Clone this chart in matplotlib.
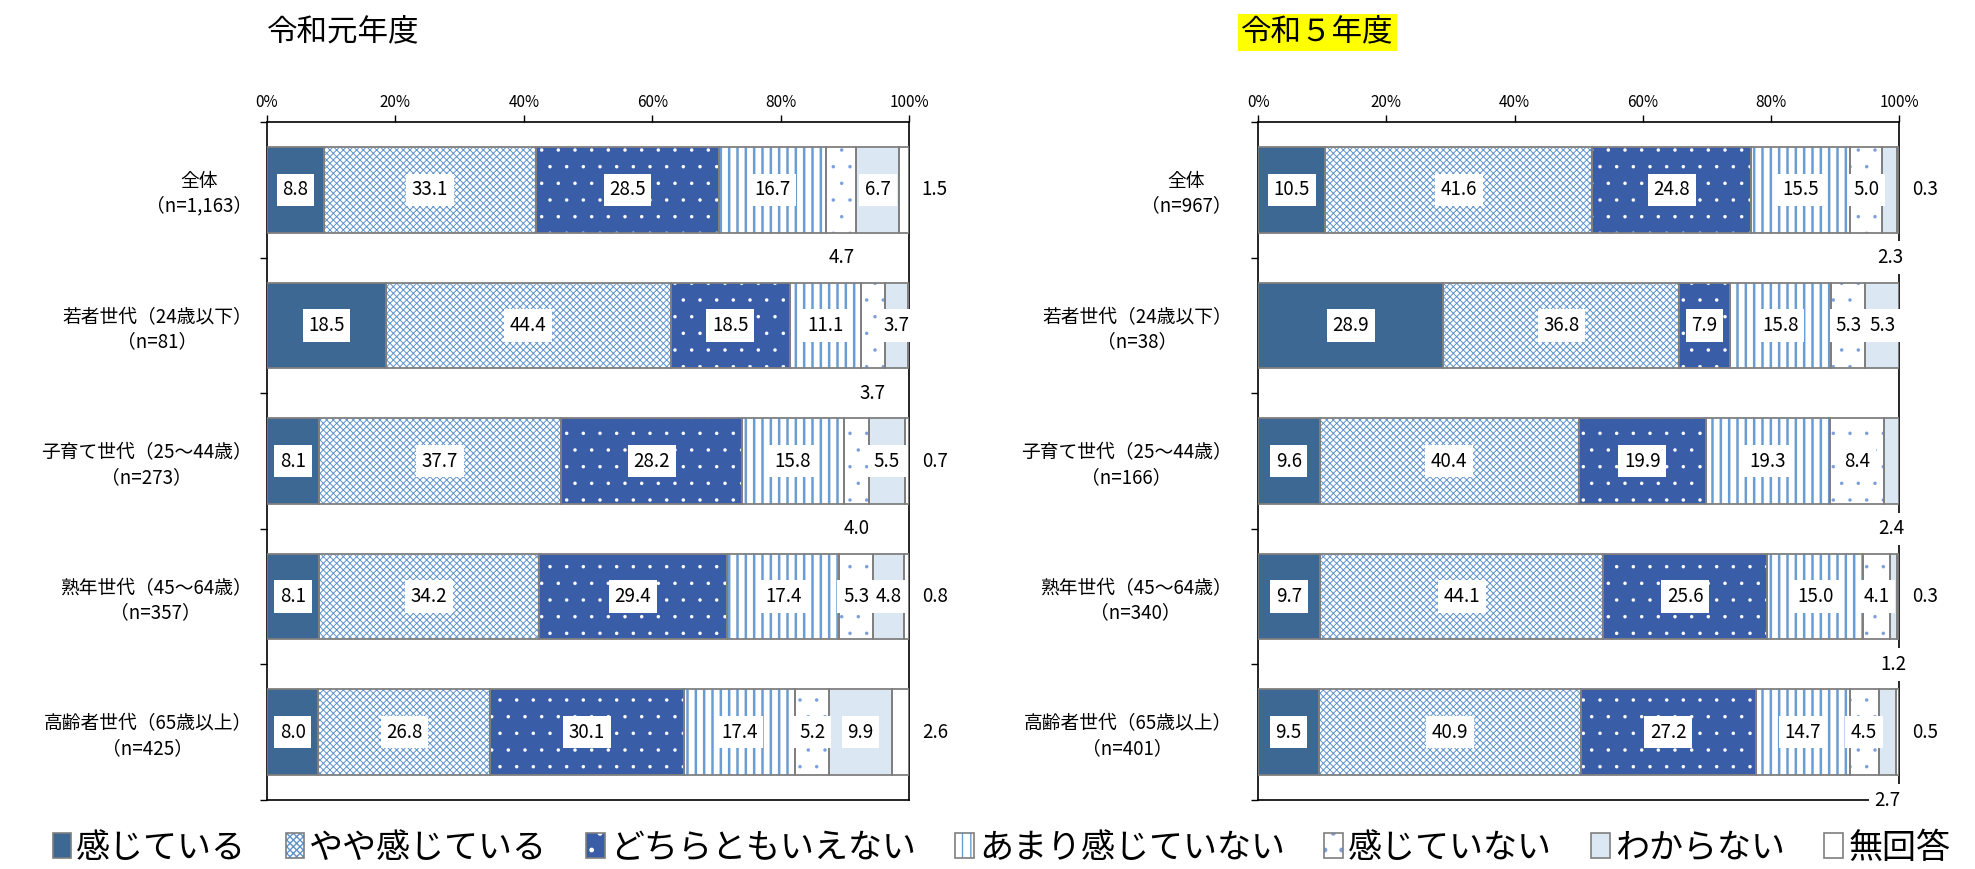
import matplotlib
matplotlib.use("Agg")
import matplotlib.pyplot as plt
from matplotlib.patches import Patch
from matplotlib.legend_handler import HandlerTuple

# ==========================================
# SETTINGS
# ==========================================
plt.rcParams["font.family"] = ["Noto Sans CJK JP", "DejaVu Sans"]
plt.rcParams["hatch.linewidth"] = 1.0

OUTPUT_PLOT = "out.png"

# ==========================================
# DATA
# ==========================================
SERIES = ["感じている", "やや感じている", "どちらともいえない",
          "あまり感じていない", "感じていない", "わからない", "無回答"]

CATS_R1 = ["全体\n（n=1,163）", "若者世代（24歳以下）\n（n=81）",
           "子育て世代（25～44歳）\n（n=273）", "熟年世代（45～64歳）\n（n=357）",
           "高齢者世代（65歳以上）\n（n=425）"]
CATS_R5 = ["全体\n（n=967）", "若者世代（24歳以下）\n（n=38）",
           "子育て世代（25～44歳）\n（n=166）", "熟年世代（45～64歳）\n（n=340）",
           "高齢者世代（65歳以上）\n（n=401）"]

# rows = categories, columns = SERIES
VALUES_R1 = [
    [8.8, 33.1, 28.5, 16.7, 4.7, 6.7, 1.5],
    [18.5, 44.4, 18.5, 11.1, 3.7, 3.7, 0.0],
    [8.1, 37.7, 28.2, 15.8, 4.0, 5.5, 0.7],
    [8.1, 34.2, 29.4, 17.4, 5.3, 4.8, 0.8],
    [8.0, 26.8, 30.1, 17.4, 5.2, 9.9, 2.6],
]
VALUES_R5 = [
    [10.5, 41.6, 24.8, 15.5, 5.0, 2.3, 0.3],
    [28.9, 36.8, 7.9, 15.8, 5.3, 5.3, 0.0],
    [9.6, 40.4, 19.9, 19.3, 8.4, 2.4, 0.0],
    [9.7, 44.1, 25.6, 15.0, 4.1, 1.2, 0.3],
    [9.5, 40.9, 27.2, 14.7, 4.5, 2.7, 0.5],
]

# where each value label goes: i = inside, b = below bar, r = right of frame, - = none
PLACE_R1 = ["iiiibir", "iiiibi-", "iiiibir", "iiiiiir", "iiiiiir"]
PLACE_R5 = ["iiiiibr", "iiiiii-", "iiiiib-", "iiiiibr", "iiiiibr"]

# ==========================================
# STYLES
# ==========================================
EDGE = "#7f7f7f"
STYLES = [
    dict(face="#3c6893", hatch=None, hc="#3c6893", hlw=1.0),
    dict(face="white", hatch="xxxxx", hc="#5f93cc", hlw=0.7),
    dict(face="#3a5da8", hatch=".", hc="white", hlw=0.1),
    dict(face="white", hatch="||", hc="#6a9dd3", hlw=1.8),
    dict(face="white", hatch=".", hc="#7c9fdc", hlw=0.1),
    dict(face="#dce7f4", hatch=None, hc="#dce7f4", hlw=1.0),
    dict(face="white", hatch=None, hc="white", hlw=1.0),
]
BAR_H = 0.63


def set_hlw(patches, lw):
    for p in patches:
        if hasattr(p, "set_hatch_linewidth"):
            p.set_hatch_linewidth(lw)


def label(ax, x, y, v):
    ax.text(x, y, f"{v:.1f}", ha="center", va="center", fontsize=13.5,
            bbox=dict(boxstyle="square,pad=0.3", fc="white", ec="none"),
            clip_on=False, zorder=6)


def draw_panel(ax, cats, values, places, ypad):
    n = len(cats)
    y = list(range(n))
    left = [0.0] * n
    for j, st in enumerate(STYLES):
        w = [row[j] for row in values]
        with plt.rc_context({"hatch.linewidth": st["hlw"]}):
            bars = ax.barh(y, w, left=left, height=BAR_H, color=st["face"],
                           hatch=st["hatch"], edgecolor=st["hc"], linewidth=0, zorder=2)
        set_hlw(bars, st["hlw"])
        ax.barh(y, w, left=left, height=BAR_H, fill=False,
                edgecolor=EDGE, linewidth=1.3, zorder=3)
        for i in range(n):
            p = places[i][j]
            if p == "i":
                label(ax, left[i] + w[i] / 2, i, w[i])
            elif p == "b":
                label(ax, left[i] + w[i] / 2, i + 0.5, w[i])
            elif p == "r":
                label(ax, 104, i, w[i])
        left = [a + b for a, b in zip(left, w)]

    ax.set_xlim(0, 100)
    ax.set_ylim(n - 0.5, -0.5)
    ax.xaxis.tick_top()
    ax.set_xticks(range(0, 101, 20))
    ax.set_xticklabels([f"{v}%" for v in range(0, 101, 20)])
    ax.tick_params(axis="x", length=5, width=1, pad=3, labelsize=11)

    ax.set_yticks(y)
    ax.set_yticklabels(cats, fontsize=13.5)
    for t in ax.get_yticklabels():
        t.set_multialignment("center")
    ax.tick_params(axis="y", which="major", length=0, pad=ypad)
    ax.set_yticks([k - 0.5 for k in range(n + 1)], minor=True)
    ax.tick_params(axis="y", which="minor", length=5, width=1)

    for s in ax.spines.values():
        s.set_color("black")
        s.set_linewidth(1.2)


# ==========================================
# PLOT
# ==========================================
fig = plt.figure(figsize=(19.75, 8.69), dpi=100)

ax1 = fig.add_axes([0.1352, 0.0794, 0.3251, 0.7802])
ax2 = fig.add_axes([0.6370, 0.0794, 0.3246, 0.7802])

draw_panel(ax1, CATS_R1, VALUES_R1, PLACE_R1, 11)
draw_panel(ax2, CATS_R5, VALUES_R5, PLACE_R5, 19)

fig.text(0.1352, 0.963, "令和元年度", fontsize=22, ha="left", va="center")
fig.text(0.6285, 0.963, "令和５年度", fontsize=22, ha="left", va="center",
         bbox=dict(boxstyle="square,pad=0.1", fc="#ffff00", ec="none"))

handles = []
for st in STYLES:
    with plt.rc_context({"hatch.linewidth": st["hlw"]}):
        fill = Patch(facecolor=st["face"], hatch=st["hatch"], edgecolor=st["hc"], linewidth=0)
    set_hlw([fill], st["hlw"])
    handles.append((fill, Patch(fill=False, edgecolor=EDGE, linewidth=1.2)))

fig.legend(handles, SERIES,
           handler_map={tuple: HandlerTuple(ndivide=1, pad=0)},
           loc="center", bbox_to_anchor=(0.507, 0.024), ncol=7,
           frameon=False, fontsize=24.5, handlelength=0.55, handleheight=0.75,
           handletextpad=0.15, columnspacing=1.15, borderaxespad=0, borderpad=0)

fig.savefig(OUTPUT_PLOT, dpi=100)
